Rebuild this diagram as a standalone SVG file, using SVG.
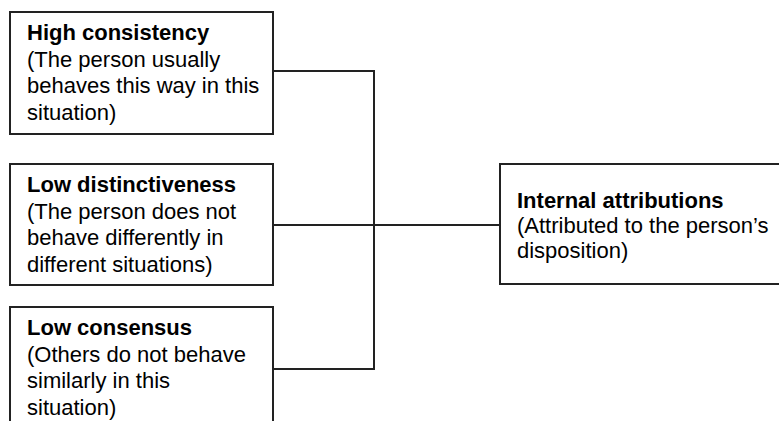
<svg xmlns="http://www.w3.org/2000/svg" width="779" height="421" viewBox="0 0 779 421">
<style>
.box{fill:#fff;stroke:#222;stroke-width:2}
.t{font-family:"Liberation Sans",Arial,sans-serif;font-size:22px;fill:#000}
.b{font-weight:bold}
.c{fill:none;stroke:#222;stroke-width:2}
</style>
<rect width="779" height="421" fill="#fff"/>
<g id="connectors">
<polyline class="c" points="273,71 374,71 374,369 273,369"/>
<line class="c" x1="273" y1="225" x2="500" y2="225"/>
</g>
<g id="high-consistency">
<rect class="box" x="10" y="12" width="263" height="122"/>
<text class="t" x="27"><tspan class="b" y="39.5">High consistency</tspan><tspan x="27" y="66.5">(The person usually</tspan><tspan x="27" y="93">behaves this way in this</tspan><tspan x="27" y="119.5">situation)</tspan></text>
</g>
<g id="low-distinctiveness">
<rect class="box" x="10" y="164" width="263" height="121"/>
<text class="t" x="27"><tspan class="b" y="192">Low distinctiveness</tspan><tspan x="27" y="218.5">(The person does not</tspan><tspan x="27" y="245">behave differently in</tspan><tspan x="27" y="271.5">different situations)</tspan></text>
</g>
<g id="low-consensus">
<rect class="box" x="10" y="307" width="263" height="130"/>
<text class="t" x="27"><tspan class="b" y="335">Low consensus</tspan><tspan x="27" y="361.5">(Others do not behave</tspan><tspan x="27" y="388">similarly in this</tspan><tspan x="27" y="414.5">situation)</tspan></text>
</g>
<g id="internal-attributions">
<rect class="box" x="500" y="164" width="300" height="120"/>
<text class="t" x="517"><tspan class="b" y="208">Internal attributions</tspan><tspan x="517" y="233">(Attributed to the person’s</tspan><tspan x="517" y="258">disposition)</tspan></text>
</g>
</svg>
